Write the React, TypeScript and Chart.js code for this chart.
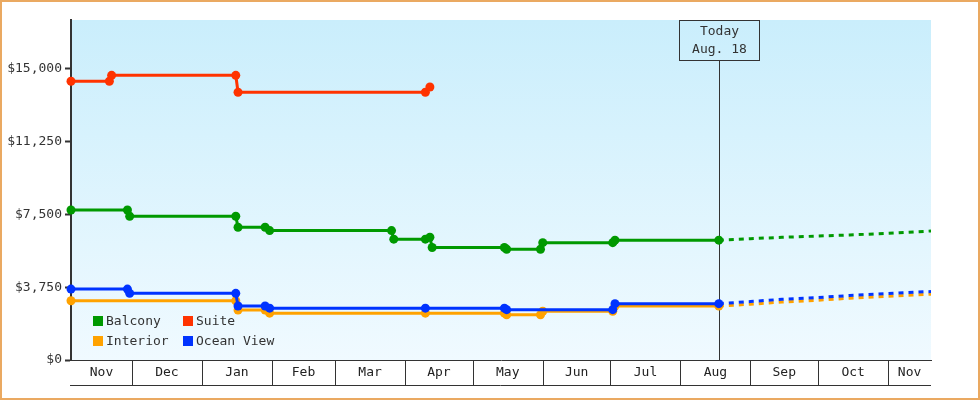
import { useEffect, useRef } from 'react'
import { Chart, registerables } from 'chart.js'

Chart.register(...registerables)

Chart.defaults.font.family = "'DejaVu Sans Mono', monospace"
Chart.defaults.font.size = 13
Chart.defaults.color = '#333'

// axis range and month strips
const rangeStart = '2012-11-04'
const rangeEnd = '2013-11-20'
const monthStarts = ['2012-12-01', '2013-01-01', '2013-02-01', '2013-03-01', '2013-04-01', '2013-05-01',
  '2013-06-01', '2013-07-01', '2013-08-01', '2013-09-01', '2013-10-01', '2013-11-01']
const monthLabels = ['Nov', 'Dec', 'Jan', 'Feb', 'Mar', 'Apr', 'May', 'Jun', 'Jul', 'Aug', 'Sep', 'Oct', 'Nov']
const priceMax = 17500
const priceTicks = [0, 3750, 7500, 11250, 15000]

const todayDate = '2013-08-18'
const todayLabel = ['Today', 'Aug. 18']

// price history
const balconyDates = ['2012-11-04', '2012-11-29', '2012-11-30', '2013-01-16', '2013-01-17', '2013-01-29', '2013-01-31',
  '2013-03-26', '2013-03-27', '2013-04-10', '2013-04-12', '2013-04-13', '2013-05-15', '2013-05-16',
  '2013-05-31', '2013-06-01', '2013-07-02', '2013-07-03', '2013-08-18']
const balconyPrices = [7720, 7720, 7400, 7400, 6830, 6830, 6660,
  6660, 6220, 6220, 6320, 5790, 5790, 5700,
  5700, 6040, 6040, 6170, 6170]

const suiteDates = ['2012-11-04', '2012-11-21', '2012-11-22', '2013-01-16', '2013-01-17', '2013-04-10', '2013-04-12']
const suitePrices = [14350, 14350, 14650, 14650, 13780, 13780, 14050]

const interiorDates = ['2012-11-04', '2013-01-16', '2013-01-17', '2013-01-29', '2013-01-31', '2013-04-10', '2013-05-15',
  '2013-05-16', '2013-05-31', '2013-06-01', '2013-07-02', '2013-07-03', '2013-08-18']
const interiorPrices = [3050, 3050, 2570, 2570, 2410, 2410, 2410,
  2330, 2330, 2510, 2510, 2780, 2780]

const oceanDates = ['2012-11-04', '2012-11-29', '2012-11-30', '2013-01-16', '2013-01-17', '2013-01-29', '2013-01-31',
  '2013-04-10', '2013-05-15', '2013-05-16', '2013-07-02', '2013-07-03', '2013-08-18']
const oceanPrices = [3650, 3650, 3430, 3430, 2780, 2780, 2670,
  2670, 2670, 2590, 2590, 2900, 2900]

// forecast after today
const forecastDates = ['2013-08-18', '2013-09-01', '2013-09-15', '2013-10-01', '2013-10-15', '2013-11-01', '2013-11-20']
const balconyForecast = [6170, 6245, 6315, 6380, 6435, 6520, 6640]
const interiorForecast = [2780, 2870, 2985, 3080, 3180, 3285, 3385]
const oceanForecast = [2900, 3010, 3125, 3215, 3320, 3420, 3525]

const legendOrder = ['Balcony', 'Suite', 'Interior', 'Ocean View']

const ms = (d: string) => Date.parse(d)
const pts = (dates: string[], vals: number[]) => dates.map((d, i) => ({ x: ms(d), y: vals[i] }))
const money = (v: number) => '$' + Math.round(v).toString().replace(/\B(?=(\d{3})+(?!\d))/g, ',')

const bounds = [ms(rangeStart), ...monthStarts.map(ms), ms(rangeEnd)]
const mids = monthLabels.map((_, i) => (bounds[i] + bounds[i + 1]) / 2)

const COLORS: Record<string, string> = {
  Balcony: '#009900',
  Suite: '#ff3300',
  Interior: '#ffa200',
  'Ocean View': '#0033ff',
}

function history(label: string, dates: string[], vals: number[], order: number) {
  return {
    label,
    data: pts(dates, vals),
    borderColor: COLORS[label],
    backgroundColor: COLORS[label],
    pointBackgroundColor: COLORS[label],
    pointBorderWidth: 0,
    pointRadius: 4.5,
    borderWidth: 3,
    tension: 0,
    clip: false as any,
    order,
  }
}

function forecast(label: string, vals: number[], order: number) {
  return {
    label: label + ' forecast',
    data: pts(forecastDates, vals),
    borderColor: COLORS[label],
    backgroundColor: COLORS[label],
    borderDash: [5, 5],
    pointRadius: 0,
    borderWidth: 3,
    tension: 0,
    order,
  }
}

const framePlugin = {
  id: 'frame',
  beforeDraw(chart: Chart) {
    const { ctx, chartArea: a, width, height } = chart
    ctx.save()
    ctx.fillStyle = '#fff'
    ctx.fillRect(0, 0, width, height)
    const g = ctx.createLinearGradient(0, a.top, 0, a.bottom)
    g.addColorStop(0, '#caeefc')
    g.addColorStop(1, '#f0faff')
    ctx.fillStyle = g
    ctx.fillRect(a.left, a.top, a.right - a.left, a.bottom - a.top)
    ctx.strokeStyle = '#eaa961'
    ctx.lineWidth = 2
    ctx.strokeRect(1, 1, width - 2, height - 2)
    ctx.restore()
  },
}

const monthStripPlugin = {
  id: 'monthStrip',
  afterDraw(chart: Chart) {
    const { ctx, chartArea: a } = chart
    const x = chart.scales['x']
    const bottom = a.bottom + 25
    ctx.save()
    ctx.strokeStyle = '#333'
    ctx.lineWidth = 1
    ctx.beginPath()
    bounds.slice(1, -1).forEach(b => {
      const px = Math.round(x.getPixelForValue(b)) + 0.5
      ctx.moveTo(px, a.bottom)
      ctx.lineTo(px, bottom)
    })
    ctx.moveTo(a.left - 1, bottom + 0.5)
    ctx.lineTo(a.right, bottom + 0.5)
    ctx.stroke()
    ctx.restore()
  },
}

const todayPlugin = {
  id: 'today',
  beforeDatasetsDraw(chart: Chart) {
    const { ctx, chartArea: a } = chart
    const px = Math.round(chart.scales['x'].getPixelForValue(ms(todayDate))) + 0.5
    ctx.save()
    ctx.strokeStyle = '#333'
    ctx.lineWidth = 1
    ctx.beginPath()
    ctx.moveTo(px, a.top + 40)
    ctx.lineTo(px, a.bottom)
    ctx.stroke()
    ctx.restore()
  },
  afterDraw(chart: Chart) {
    const { ctx, chartArea: a } = chart
    const px = Math.round(chart.scales['x'].getPixelForValue(ms(todayDate)))
    ctx.save()
    ctx.strokeStyle = '#333'
    ctx.lineWidth = 1
    ctx.strokeRect(px - 39.5, a.top + 0.5, 80, 40)
    ctx.fillStyle = '#333'
    ctx.font = "13px 'DejaVu Sans Mono', monospace"
    ctx.textAlign = 'center'
    ctx.textBaseline = 'middle'
    todayLabel.forEach((t, i) => ctx.fillText(t, px + 0.5, a.top + 12 + i * 18))
    ctx.restore()
  },
}

const legendPlugin = {
  id: 'boxLegend',
  afterDraw(chart: Chart) {
    const { ctx, chartArea: a } = chart
    ctx.save()
    ctx.font = "13px 'DejaVu Sans Mono', monospace"
    ctx.textBaseline = 'middle'
    ctx.textAlign = 'left'
    legendOrder.forEach((label, i) => {
      const ds = chart.data.datasets.find(d => d.label === label)
      if (!ds) return
      const bx = a.left + 22 + (i % 2) * 90
      const by = a.bottom - 44 + Math.floor(i / 2) * 20
      ctx.fillStyle = ds.borderColor as string
      ctx.fillRect(bx, by, 10, 10)
      ctx.fillStyle = '#333'
      ctx.fillText(label, bx + 13, by + 5.5)
    })
    ctx.restore()
  },
}

export default function App() {
  const canvasRef = useRef<HTMLCanvasElement>(null)
  const chartRef = useRef<Chart | null>(null)

  useEffect(() => {
    if (!canvasRef.current) return
    if (chartRef.current) { chartRef.current.destroy(); chartRef.current = null }

    chartRef.current = new Chart(canvasRef.current, {
      type: 'line',
      data: {
        datasets: [
          history('Balcony', balconyDates, balconyPrices, 3),
          history('Suite', suiteDates, suitePrices, 2),
          history('Interior', interiorDates, interiorPrices, 1),
          history('Ocean View', oceanDates, oceanPrices, 0),
          forecast('Balcony', balconyForecast, 3),
          forecast('Interior', interiorForecast, 1),
          forecast('Ocean View', oceanForecast, 0),
        ] as any,
      },
      options: {
        responsive: true,
        maintainAspectRatio: false,
        animation: false,
        layout: { padding: { top: 20, right: 49, left: 0, bottom: 0 } },
        plugins: {
          legend: { display: false },
          tooltip: { enabled: false },
        },
        scales: {
          x: {
            type: 'linear',
            min: ms(rangeStart),
            max: ms(rangeEnd),
            afterBuildTicks: (s: any) => { s.ticks = mids.map(v => ({ value: v })) },
            afterFit: (s: any) => { s.height = 40 },
            grid: { display: false, drawTicks: false },
            border: { display: true, color: '#333', width: 1 },
            ticks: {
              autoSkip: false,
              maxRotation: 0,
              padding: 5,
              color: '#222',
              callback: (_v: any, i: number) => monthLabels[i],
            },
          },
          y: {
            min: 0,
            max: priceMax,
            afterBuildTicks: (s: any) => { s.ticks = priceTicks.map(v => ({ value: v })) },
            afterFit: (s: any) => { s.width = 71 },
            grid: { drawOnChartArea: false, drawTicks: true, tickLength: 6, tickWidth: 2, tickColor: '#333', color: '#333' },
            border: { display: true, color: '#333', width: 2 },
            ticks: {
              padding: 3,
              color: '#333',
              callback: (v: any) => money(Number(v)),
            },
          },
        },
      },
      plugins: [framePlugin, todayPlugin, monthStripPlugin, legendPlugin] as any,
    })

    return () => { chartRef.current?.destroy(); chartRef.current = null }
  }, [])

  return (
    <div style={{ width: 980, height: 400, position: 'relative' }}>
      <style>{'body{margin:0}'}</style>
      <canvas ref={canvasRef} />
    </div>
  )
}
